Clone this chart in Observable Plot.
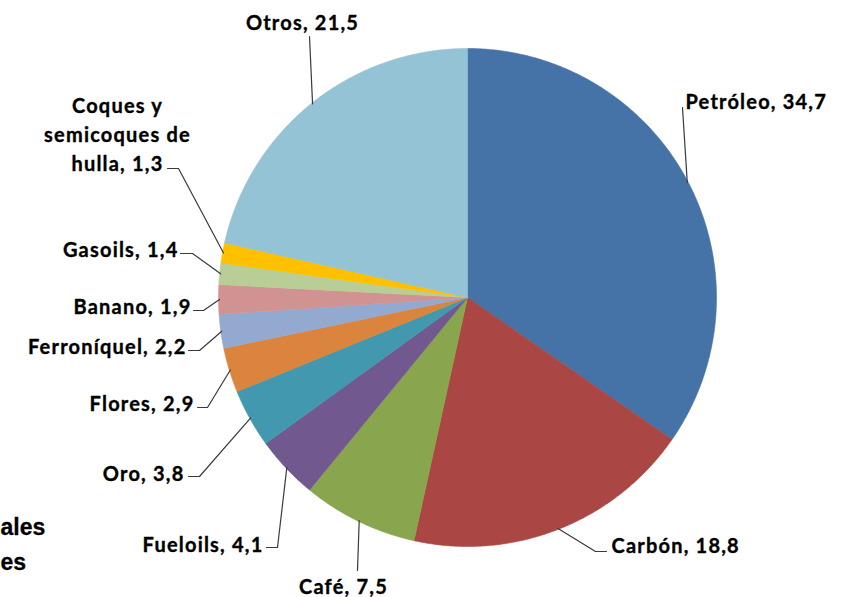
<!DOCTYPE html>
<html>
<head>
<meta charset="utf-8">
<script src="https://cdn.jsdelivr.net/npm/d3@7"></script>
<script src="https://cdn.jsdelivr.net/npm/@observablehq/plot@0.6"></script>
<style>
  html, body { margin: 0; padding: 0; background: #ffffff; overflow: hidden; }
</style>
</head>
<body>
<div id="chart"></div>
<script>
// ---- Data ----
const categories = ["Petróleo", "Carbón", "Café", "Fueloils", "Oro", "Flores", "Ferroníquel", "Banano", "Gasoils", "Coques y semicoques de hulla", "Otros"];
const values = [34.7, 18.8, 7.5, 4.1, 3.8, 2.9, 2.2, 1.9, 1.4, 1.3, 21.5];
const labelNames = ["Petróleo", "Carbón", "Café", "Fueloils", "Oro", "Flores", "Ferroníquel", "Banano", "Gasoils", "Coques y\nsemicoques de\nhulla", "Otros"];
const sliceColors = ["#4572A7", "#AA4643", "#89A54E", "#71588F", "#4198AF", "#DB843D", "#93A9CF", "#D19392", "#B9CD96", "#FFC000", "#93C3D4"];
// visible (clipped) fragments of the title in the reference
const titleLines = ["ales", "es"];

// ---- Layout ----
const W = 842, H = 597;
const center = [467, 297];
const radius = 249;
// label anchor (tx, ty), text anchor, leader bend points (from arc outward)
const labelLayout = [
  {tx: 685, ty: 99,  anchor: "start",  bend: [[682, 107]]},
  {tx: 611, ty: 543, anchor: "start",  bend: [[595, 551], [606, 551]]},
  {tx: 343, ty: 584, anchor: "middle", bend: [[357, 570]]},
  {tx: 263, ty: 542, anchor: "end",    bend: [[277, 547], [266, 547]]},
  {tx: 184, ty: 471, anchor: "end",    bend: [[199, 476], [188, 476]]},
  {tx: 194, ty: 401, anchor: "end",    bend: [[207, 407], [197, 407]]},
  {tx: 186, ty: 344, anchor: "end",    bend: [[199, 350], [188, 350]]},
  {tx: 191, ty: 304, anchor: "end",    bend: [[203, 310], [193, 310]]},
  {tx: 178, ty: 247, anchor: "end",    bend: [[192, 253], [180, 253]]},
  {tx: 117, ty: 132, anchor: "middle", bend: [[178, 168], [167, 168]]},
  {tx: 302, ty: 20,  anchor: "middle", bend: [[309, 36]]}
];
const titleLayout = [{x: 0, y: 527}, {x: 0, y: 562}];

// ---- Build geometry from data ----
const rows = categories.map((c, i) => ({cat: c, value: values[i], name: labelNames[i], color: sliceColors[i]}));
const arcs = d3.pie().sort(null).value(d => d.value).startAngle(0).endAngle(2 * Math.PI)(rows);
const polar = (a, r) => [center[0] + r * Math.sin(a), center[1] - r * Math.cos(a)];

const slicePts = [];
arcs.forEach(a => {
  const key = a.data.cat;
  slicePts.push({key, color: a.data.color, x: center[0], y: center[1]});
  const n = Math.max(4, Math.ceil((a.endAngle - a.startAngle) / (Math.PI / 360)));
  for (let k = 0; k <= n; k++) {
    const ang = a.startAngle + (a.endAngle - a.startAngle) * k / n;
    const [x, y] = polar(ang, radius);
    slicePts.push({key, color: a.data.color, x, y});
  }
  slicePts.push({key, color: a.data.color, x: center[0], y: center[1]});
});

const fmt = v => d3.format(".1f")(v).replace(".", ",");
const labels = arcs.map((a, i) => {
  const L = labelLayout[i];
  return {key: a.data.cat, text: `${a.data.name}, ${fmt(a.data.value)}`, x: L.tx, y: L.ty, anchor: L.anchor};
});
const leaderPts = [];
arcs.forEach((a, i) => {
  const mid = (a.startAngle + a.endAngle) / 2;
  const [x0, y0] = polar(mid, radius - 1);
  leaderPts.push({key: a.data.cat, x: x0, y: y0});
  labelLayout[i].bend.forEach(([x, y]) => leaderPts.push({key: a.data.cat, x, y}));
});
const titleData = titleLines.map((t, i) => ({text: t, x: titleLayout[i].x, y: titleLayout[i].y}));

const labelFont = {
  fontFamily: "Lato, 'Open Sans', sans-serif", fontWeight: "bold", fontSize: 20,
  fill: "#000", stroke: "#000", strokeWidth: 0.35, lineHeight: 1.47
};

const chart = Plot.plot({
  width: W,
  height: H,
  margin: 0,
  x: {type: "identity", axis: null},
  y: {type: "identity", axis: null},
  color: {type: "identity"},
  style: {background: "#ffffff"},
  marks: [
    Plot.line(slicePts, {x: "x", y: "y", z: "key", fill: "color", stroke: "color", strokeWidth: 0.6, curve: "linear"}),
    Plot.line(leaderPts, {x: "x", y: "y", z: "key", stroke: "#3a3a3a", strokeWidth: 1.2, curve: "linear"}),
    Plot.text(labels.filter(d => d.anchor === "start"), {x: "x", y: "y", text: "text", textAnchor: "start", ...labelFont}),
    Plot.text(labels.filter(d => d.anchor === "end"), {x: "x", y: "y", text: "text", textAnchor: "end", ...labelFont}),
    Plot.text(labels.filter(d => d.anchor === "middle"), {x: "x", y: "y", text: "text", textAnchor: "middle", ...labelFont}),
    Plot.text(titleData, {x: "x", y: "y", text: "text", textAnchor: "start", fontFamily: "'Liberation Sans', Arial, sans-serif", fontWeight: "bold", fontSize: 23, fill: "#000", stroke: "#000", strokeWidth: 0.3})
  ]
});
chart.querySelectorAll("text").forEach(t => {
  const g = t.closest("g");
  const ff = g && g.getAttribute("font-family");
  if (ff && ff.startsWith("Lato")) t.setAttribute("letter-spacing", "1.2");
});
document.getElementById("chart").appendChild(chart);
</script>
</body>
</html>
